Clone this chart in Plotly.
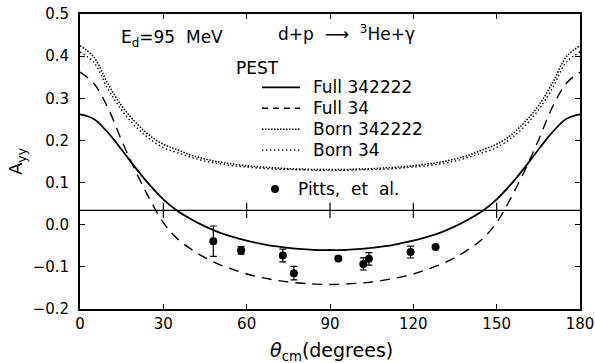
import plotly.graph_objects as go

# ---------------- data ----------------
theta = [0, 5, 10, 15, 20, 25, 30, 35, 40, 45, 50, 55, 60, 65, 70, 75, 80, 85, 90,
         95, 100, 105, 110, 115, 120, 125, 130, 135, 140, 145, 150, 155, 160, 165, 170, 175, 180]

full_342222 = [0.262, 0.251, 0.219, 0.178, 0.135, 0.095, 0.060, 0.033, 0.013, -0.004,
               -0.018, -0.029, -0.038, -0.045, -0.051, -0.055, -0.058, -0.060, -0.060,
               -0.060, -0.058, -0.055, -0.051, -0.045, -0.038, -0.029, -0.018, -0.004,
               0.013, 0.033, 0.060, 0.095, 0.135, 0.178, 0.219, 0.251, 0.262]

full_34 = [0.362, 0.335, 0.278, 0.200, 0.127, 0.062, 0.005, -0.033, -0.058, -0.078,
           -0.094, -0.106, -0.117, -0.125, -0.131, -0.136, -0.139, -0.141, -0.142,
           -0.141, -0.139, -0.136, -0.131, -0.125, -0.117, -0.106, -0.094, -0.078,
           -0.058, -0.033, 0.005, 0.062, 0.127, 0.200, 0.278, 0.335, 0.362]

born_342222 = [0.425, 0.398, 0.335, 0.282, 0.243, 0.212, 0.191, 0.178, 0.165, 0.156,
               0.149, 0.144, 0.140, 0.137, 0.135, 0.133, 0.132, 0.131, 0.131,
               0.131, 0.132, 0.133, 0.135, 0.137, 0.140, 0.144, 0.149, 0.156,
               0.165, 0.178, 0.191, 0.212, 0.243, 0.282, 0.335, 0.398, 0.425]

born_34 = [0.410, 0.385, 0.323, 0.272, 0.233, 0.204, 0.183, 0.171, 0.160, 0.151,
           0.145, 0.140, 0.137, 0.134, 0.132, 0.131, 0.130, 0.129, 0.129,
           0.129, 0.130, 0.131, 0.132, 0.134, 0.137, 0.140, 0.145, 0.151,
           0.160, 0.171, 0.183, 0.204, 0.233, 0.272, 0.323, 0.385, 0.410]

pitts_theta = [48.0, 58.0, 73.0, 77.0, 93.0, 102.0, 104.0, 119.0, 128.0]
pitts_ayy = [-0.039, -0.061, -0.073, -0.115, -0.080, -0.093, -0.081, -0.065, -0.053]
pitts_err = [0.036, 0.009, 0.015, 0.016, 0.0, 0.0145, 0.015, 0.014, 0.0]

baseline_y = 0.034
baseline_ticks = [30, 60, 90, 120, 150]

x_ticks = [0, 30, 60, 90, 120, 150, 180]
y_ticks = [-0.2, -0.1, 0.0, 0.1, 0.2, 0.3, 0.4, 0.5]

legend_labels = ["Full 342222", "Full 34", "Born 342222", "Born 34"]

# ---------------- figure ----------------
FONT = "DejaVu Sans"
fig = go.Figure()

fig.add_trace(go.Scatter(x=theta, y=born_342222, mode="lines", line_shape="spline",
                         line=dict(color="black", width=1.5, dash="1.5px,1.5px"),
                         showlegend=False, hoverinfo="skip"))
fig.add_trace(go.Scatter(x=theta, y=born_34, mode="lines", line_shape="spline",
                         line=dict(color="black", width=1.4, dash="1.4px,2.6px"),
                         showlegend=False, hoverinfo="skip"))
fig.add_trace(go.Scatter(x=theta, y=full_34, mode="lines", line_shape="spline",
                         line=dict(color="black", width=1.4, dash="10px,7px"),
                         showlegend=False, hoverinfo="skip"))
fig.add_trace(go.Scatter(x=theta, y=full_342222, mode="lines", line_shape="spline",
                         line=dict(color="black", width=1.8),
                         showlegend=False, hoverinfo="skip"))

# horizontal reference line with crossing ticks
fig.add_shape(type="line", xref="x", yref="y", x0=x_ticks[0], x1=x_ticks[-1],
              y0=baseline_y, y1=baseline_y, line=dict(color="black", width=1.2))
fig.add_trace(go.Scatter(x=baseline_ticks, y=[baseline_y] * len(baseline_ticks), mode="markers",
                         marker=dict(symbol="line-ns", size=11, line=dict(color="black", width=1.2)),
                         showlegend=False, hoverinfo="skip"))

# data points
fig.add_trace(go.Scatter(x=pitts_theta, y=pitts_ayy, mode="markers",
                         marker=dict(color="black", size=8),
                         error_y=dict(type="data", array=pitts_err, visible=True,
                                      color="black", thickness=1.2, width=3.5),
                         showlegend=False, hoverinfo="skip"))

# ---------------- custom legend ----------------
def px_x(p):
    return (p - 80) / 500.0

def px_y(p):
    return (309.3 - p) / 295.8

row_y = [87, 108, 129, 150]
styles = [dict(width=1.8), dict(width=1.4, dash="6px,5px"),
          dict(width=1.5, dash="1.5px,1.5px"), dict(width=1.4, dash="1.4px,2.6px")]
for lbl, ry, st in zip(legend_labels, row_y, styles):
    fig.add_shape(type="line", xref="paper", yref="paper",
                  x0=px_x(262), x1=px_x(300), y0=px_y(ry), y1=px_y(ry),
                  line=dict(color="black", **st))
    fig.add_annotation(text=lbl, xref="paper", yref="paper", x=px_x(311), y=px_y(ry),
                       xanchor="left", yanchor="middle", showarrow=False,
                       font=dict(family=FONT, size=17, color="black"))

fig.add_annotation(text="PEST", xref="paper", yref="paper", x=px_x(234), y=px_y(68),
                   xanchor="left", yanchor="middle", showarrow=False,
                   font=dict(family=FONT, size=17, color="black"))

fig.add_shape(type="circle", xref="paper", yref="paper", xsizemode="pixel", ysizemode="pixel",
              xanchor=px_x(275), yanchor=px_y(189), x0=-4, x1=4, y0=-4, y1=4,
              fillcolor="black", line=dict(color="black", width=0))
fig.add_annotation(text="Pitts,  et  al.", xref="paper", yref="paper", x=px_x(296), y=px_y(189),
                   xanchor="left", yanchor="middle", showarrow=False,
                   font=dict(family=FONT, size=17, color="black"))

fig.add_annotation(text="E<sub>d</sub>=95  MeV", xref="paper", yref="paper", x=px_x(119), y=px_y(38),
                   xanchor="left", yanchor="middle", showarrow=False,
                   font=dict(family=FONT, size=17, color="black"))
fig.add_annotation(text="d+p  ⟶  <sup>3</sup>He+γ", xref="paper", yref="paper", x=px_x(276), y=px_y(33),
                   xanchor="left", yanchor="middle", showarrow=False,
                   font=dict(family=FONT, size=17, color="black"))

# axis titles
fig.add_annotation(text="A<sub>yy</sub>", xref="paper", yref="paper", x=px_x(17), y=px_y(161),
                   xanchor="center", yanchor="middle", textangle=-90, showarrow=False,
                   font=dict(family=FONT, size=18, color="black"))
fig.add_annotation(text="<i>θ</i><sub>cm</sub>(degrees)", xref="paper", yref="paper",
                   x=px_x(331), y=px_y(352),
                   xanchor="center", yanchor="middle", showarrow=False,
                   font=dict(family=FONT, size=19, color="black"))

axis_common = dict(showgrid=False, zeroline=False, showline=True, linecolor="black", linewidth=1.8,
                   mirror="ticks", ticks="inside", ticklen=5, tickwidth=1.2, tickcolor="black",
                   automargin=False,
                   tickfont=dict(family=FONT, size=15, color="black"))

fig.update_xaxes(range=[x_ticks[0], x_ticks[-1]], tickvals=x_ticks,
                 ticktext=[str(v) for v in x_ticks], ticklabelstandoff=0, **axis_common)
fig.update_yaxes(range=[y_ticks[0], y_ticks[-1]], tickvals=y_ticks,
                 ticktext=[("−" if v < 0 else "") + f"{abs(v):.1f}" for v in y_ticks],
                 ticklabelstandoff=6, **axis_common)

fig.update_layout(template="none", width=595, height=363, margin=dict(l=80, r=15, t=13.5, b=53.7),
                  plot_bgcolor="white", paper_bgcolor="white", showlegend=False)

fig.write_html("out.html", config={"displayModeBar": False},
               post_script="document.body.style.margin='0px';document.body.style.overflow='hidden';")
